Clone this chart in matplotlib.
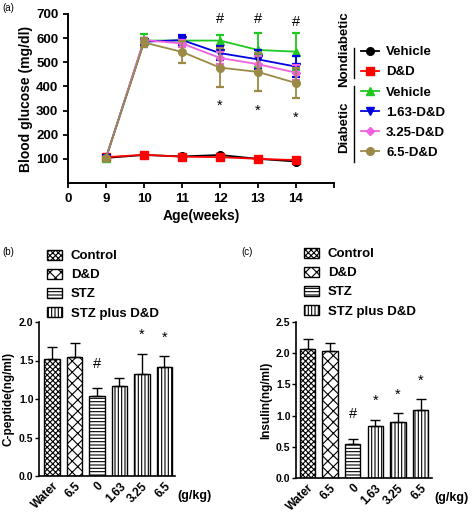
import matplotlib
matplotlib.use('Agg')
import matplotlib.pyplot as plt
import matplotlib.patches as patches
from matplotlib.lines import Line2D
import numpy as np

plt.rcParams['font.family'] = ['Liberation Sans', 'DejaVu Sans']
plt.rcParams['font.weight'] = 'bold'
plt.rcParams['hatch.linewidth'] = 0.8

# ---- data: blood glucose (a) ----
weeks = [9, 10, 11, 12, 13, 14]
glu_series = ['Vehicle', 'D&D', 'Vehicle', '1.63-D&D', '3.25-D&D', '6.5-D&D']
glu_colors = ['black', '#ff0000', '#1ec81e', '#0000e0', '#f060e0', '#9a8a45']
glu_markers = ['o', 's', '^', 'v', 'D', 'o']
glu_mean = [
    [104, 116, 110, 116, 100, 89],
    [107, 117, 109, 107, 100, 95],
    [104, 590, 590, 590, 551, 544],
    [104, 585, 592, 538, 512, 482],
    [104, 592, 578, 518, 492, 457],
    [104, 582, 543, 478, 460, 414],
]
glu_err = [
    [3, 5, 5, 5, 4, 4],
    [3, 5, 5, 5, 4, 5],
    [4, 28, 10, 25, 72, 77],
    [4, 15, 20, 30, 38, 45],
    [4, 10, 15, 25, 35, 30],
    [4, 20, 47, 80, 80, 62],
]
hash_weeks = [12, 13, 14]
hash_y = [678, 678, 665]
star_weeks = [12, 13, 14]
star_y = [318, 298, 270]

# ---- data: C-peptide (b) and insulin (c) ----
dose_labels = ['Water', '6.5', '0', '1.63', '3.25', '6.5']
group_of_bar = [0, 1, 2, 3, 3, 3]
group_names = ['Control', 'D&D', 'STZ', 'STZ plus D&D']
group_hatch = ['xxxxxx', 'xxx', '-----', '|||||']
cpep_mean = [1.52, 1.55, 1.04, 1.17, 1.33, 1.41]
cpep_err = [0.16, 0.18, 0.10, 0.10, 0.26, 0.15]
cpep_marks = ['', '', '#', '', '*', '*']
ins_mean = [2.06, 2.03, 0.55, 0.83, 0.90, 1.09]
ins_err = [0.16, 0.14, 0.07, 0.10, 0.14, 0.17]
ins_marks = ['', '', '#', '*', '*', '*']

W, H = 473, 517
fig = plt.figure(figsize=(W / 100, H / 100), dpi=100)


def fx(px):
    return px / W


def fy(py):
    return 1 - py / H


# ---------- panel (a) ----------
ax = fig.add_axes([fx(68), fy(183), fx(266), 169 / H])
for i in range(len(glu_series)):
    ax.errorbar(weeks, glu_mean[i], yerr=glu_err[i], color=glu_colors[i],
                marker=glu_markers[i], markersize=5.5 if glu_markers[i] != 'D' else 4.5,
                lw=1.3, elinewidth=1.3, capsize=3, capthick=1.6, zorder=2 + i)
ax.set_xlim(8, 15)
ax.set_ylim(0, 700)
ax.set_xticks(range(8, 16))
ax.set_xticklabels(['0'] + [str(w) for w in weeks] + [''])
ax.set_yticks(range(100, 701, 100))
ax.tick_params(labelsize=9.5, width=1.3, length=3.5)
for s in ['top', 'right']:
    ax.spines[s].set_visible(False)
for s in ['left', 'bottom']:
    ax.spines[s].set_linewidth(1.4)
ax.set_xlabel('Age(weeks)', fontsize=10, fontweight='bold', labelpad=3)
ax.set_ylabel('Blood glucose (mg/dl)', fontsize=10, fontweight='bold', labelpad=2)
for w, y in zip(hash_weeks, hash_y):
    ax.text(w, y, '#', ha='center', va='center', fontsize=10.5, fontweight='normal')
for w, y in zip(star_weeks, star_y):
    ax.text(w, y, '*', ha='center', va='center', fontsize=10.5, fontweight='normal')

handles = [Line2D([], [], color=c, marker=m, markersize=5.5 if m != 'D' else 4.5, lw=1.3)
           for c, m in zip(glu_colors, glu_markers)]
fig.legend(handles, glu_series, loc='upper left', bbox_to_anchor=(fx(361), fy(46)),
           frameon=False, fontsize=9.5, handlelength=1.35, handletextpad=0.55,
           labelspacing=0.6, borderpad=0, borderaxespad=0)
fig.add_artist(Line2D([fx(354), fx(354)], [fy(48), fy(78)], color='black', lw=1))
fig.add_artist(Line2D([fx(354), fx(354)], [fy(86), fy(162)], color='black', lw=1))
fig.text(fx(344), fy(49), 'Nondiabetic', rotation=90, ha='center', va='center', fontsize=9.5)
fig.text(fx(344), fy(127), 'Diabetic', rotation=90, ha='center', va='center', fontsize=9.5)
fig.text(fx(2), fy(8), '(a)', fontsize=7, fontweight='normal', va='center')


# ---------- panels (b), (c) ----------
def bar_panel(rect, means, errs, marks, ymax, ystep, ylabel, xlim, leg_x, leg_y, tag, tag_xy):
    bx = fig.add_axes(rect)
    x = np.arange(len(means))
    for i in range(len(means)):
        bx.bar(x[i], means[i], width=0.68, facecolor='white', edgecolor='black',
               hatch=group_hatch[group_of_bar[i]], lw=1.0, zorder=2)
        bx.errorbar(x[i], means[i], yerr=[[0], [errs[i]]], color='black', lw=1.0,
                    capsize=3.5, capthick=1.0, zorder=3)
        if marks[i]:
            off = 0.16 if marks[i] == '#' else 0.12
            bx.text(x[i], means[i] + errs[i] + ymax * off, marks[i], ha='center',
                    va='center', fontsize=10.5, fontweight='normal')
    bx.set_xlim(*xlim)
    bx.set_ylim(0, ymax)
    bx.set_yticks(np.arange(0, ymax + 0.01, ystep))
    bx.set_yticklabels(['%.1f' % v for v in np.arange(0, ymax + 0.01, ystep)])
    bx.set_xticks(x)
    bx.set_xticklabels(dose_labels, rotation=45, ha='right', rotation_mode='anchor')
    bx.tick_params(axis='x', length=0, labelsize=8.5, pad=3)
    bx.tick_params(axis='y', labelsize=7.5, width=1.0, length=3, pad=1)
    for s in ['top', 'right']:
        bx.spines[s].set_visible(False)
    for s in ['left', 'bottom']:
        bx.spines[s].set_linewidth(1.2)
    bx.set_ylabel(ylabel, fontsize=8.5, fontweight='bold', labelpad=3)
    bx.text(1.02, -0.13, '(g/kg)', transform=bx.transAxes, fontsize=9, va='center')
    leg_handles = [patches.Patch(facecolor='white', edgecolor='black', hatch=h, lw=1.0)
                   for h in group_hatch]
    fig.legend(leg_handles, group_names, loc='upper left', bbox_to_anchor=(fx(leg_x), fy(leg_y)),
               frameon=False, fontsize=9.5, handlelength=1.1, handleheight=0.75,
               handletextpad=0.7, labelspacing=0.5, borderpad=0, borderaxespad=0)
    fig.text(fx(tag_xy[0]), fy(tag_xy[1]), tag, fontsize=7, fontweight='normal', va='center')
    return bx


bar_panel([fx(39), fy(476), fx(136), 154 / H], cpep_mean, cpep_err, cpep_marks,
          2.0, 0.5, 'C-peptide(ng/ml)', (-0.58, 5.47), 47, 250, '(b)', (2, 252))
bar_panel([fx(296), fy(478), fx(136), 156 / H], ins_mean, ins_err, ins_marks,
          2.5, 0.5, 'Insulin(ng/ml)', (-0.51, 5.5), 304, 248, '(c)', (241, 252))

fig.savefig('out.png', dpi=100)
